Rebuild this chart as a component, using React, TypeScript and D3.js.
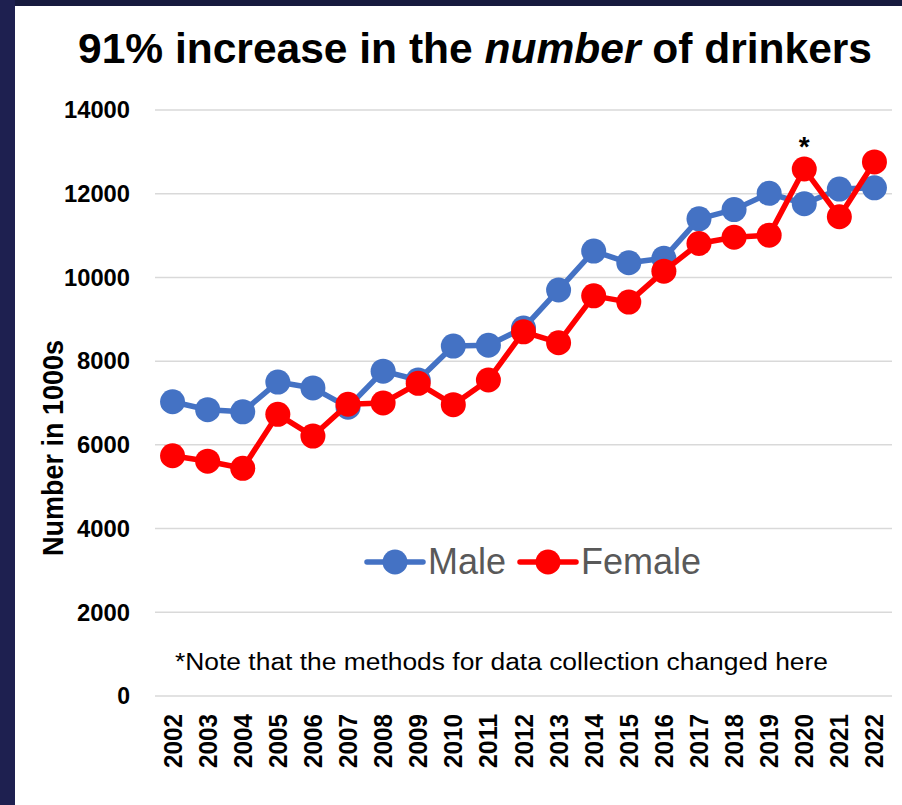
import React from "react";
import * as d3 from "d3";

const years = ["2002","2003","2004","2005","2006","2007","2008","2009","2010","2011","2012","2013","2014","2015","2016","2017","2018","2019","2020","2021","2022"];
const maleValues = [7030,6840,6790,7500,7360,6900,7760,7550,8360,8380,8790,9700,10630,10350,10460,11400,11620,12010,11760,12110,12140];
const femaleValues = [5740,5610,5440,6730,6210,6970,7000,7470,6960,7550,8700,8440,9560,9410,10150,10810,10960,11010,12590,11450,12760];
const yTicks = [0,2000,4000,6000,8000,10000,12000,14000];
const seriesNames = ["Male","Female"];
const seriesColors = ["#4472C4","#FF0000"];

const W = 902, H = 805;
const plotLeft = 155, plotRight = 892, plotTop = 110, plotBottom = 696;

export default function App() {
  const x = d3.scaleBand<string>().domain(years).range([plotLeft, plotRight]).padding(0);
  const y = d3.scaleLinear().domain([0, 14000]).range([plotBottom, plotTop]);
  const cx = (yr: string) => (x(yr) as number) + x.bandwidth() / 2;
  const line = d3.line<number>().x((_, i) => cx(years[i])).y((v) => y(v));
  const series = [maleValues, femaleValues];
  const font = "'Liberation Sans', Arial, sans-serif";

  return (
    <svg width={W} height={H} style={{ position: "absolute", left: 0, top: 0, background: "#fff" }} fontFamily={font}>
      <rect x={0} y={0} width={W} height={H} fill="#ffffff" />
      <rect x={0} y={0} width={W} height={6} fill="#171a3e" />
      <rect x={0} y={0} width={15} height={H} fill="#1e2050" />

      <text x={475} y={63} textAnchor="middle" fontSize={43} fontWeight="bold" fill="#000" textLength={794} lengthAdjust="spacingAndGlyphs">
        91% increase in the <tspan fontStyle="italic">number</tspan> of drinkers
      </text>

      {yTicks.map((t) => (
        <g key={t}>
          <line x1={plotLeft} x2={plotRight} y1={y(t)} y2={y(t)} stroke="#d9d9d9" strokeWidth={1.5} />
          <text x={130} y={y(t)} dy="0.36em" textAnchor="end" fontSize={23} fontWeight="bold" fill="#000" textLength={t === 0 ? undefined : t >= 10000 ? 66 : 53} lengthAdjust="spacingAndGlyphs">{t}</text>
        </g>
      ))}

      {years.map((yr) => (
        <text key={yr} transform={`translate(${cx(yr)},714) rotate(-90)`} dy="0.36em" textAnchor="end" fontSize={25} fontWeight="bold" fill="#000" textLength={54} lengthAdjust="spacingAndGlyphs">{yr}</text>
      ))}

      <text transform="translate(52,448) rotate(-90)" dy="0.36em" textAnchor="middle" fontSize={30} fontWeight="bold" fill="#000" textLength={216} lengthAdjust="spacingAndGlyphs">Number in 1000s</text>

      {series.map((vals, si) => (
        <g key={si}>
          <path d={line(vals) as string} fill="none" stroke={seriesColors[si]} strokeWidth={5.5} strokeLinejoin="round" />
          {vals.map((v, i) => (
            <circle key={i} cx={cx(years[i])} cy={y(v)} r={12.5} fill={seriesColors[si]} />
          ))}
        </g>
      ))}

      <text x={cx("2020")} y={156} textAnchor="middle" fontSize={28} fontWeight="bold" fill="#000">*</text>

      {seriesNames.map((name, i) => {
        const lx = i === 0 ? 367 : 520;
        const tx = i === 0 ? 428 : 581;
        return (
          <g key={name}>
            <line x1={lx} x2={lx + 56} y1={562} y2={562} stroke={seriesColors[i]} strokeWidth={5.5} strokeLinecap="round" />
            <circle cx={lx + 28} cy={562} r={12.5} fill={seriesColors[i]} />
            <text x={tx} y={574} fontSize={36} fill="#595959">{name}</text>
          </g>
        );
      })}

      <text x={175} y={670} fontSize={23} fill="#000" textLength={653} lengthAdjust="spacingAndGlyphs">*Note that the methods for data collection changed here</text>
    </svg>
  );
}
